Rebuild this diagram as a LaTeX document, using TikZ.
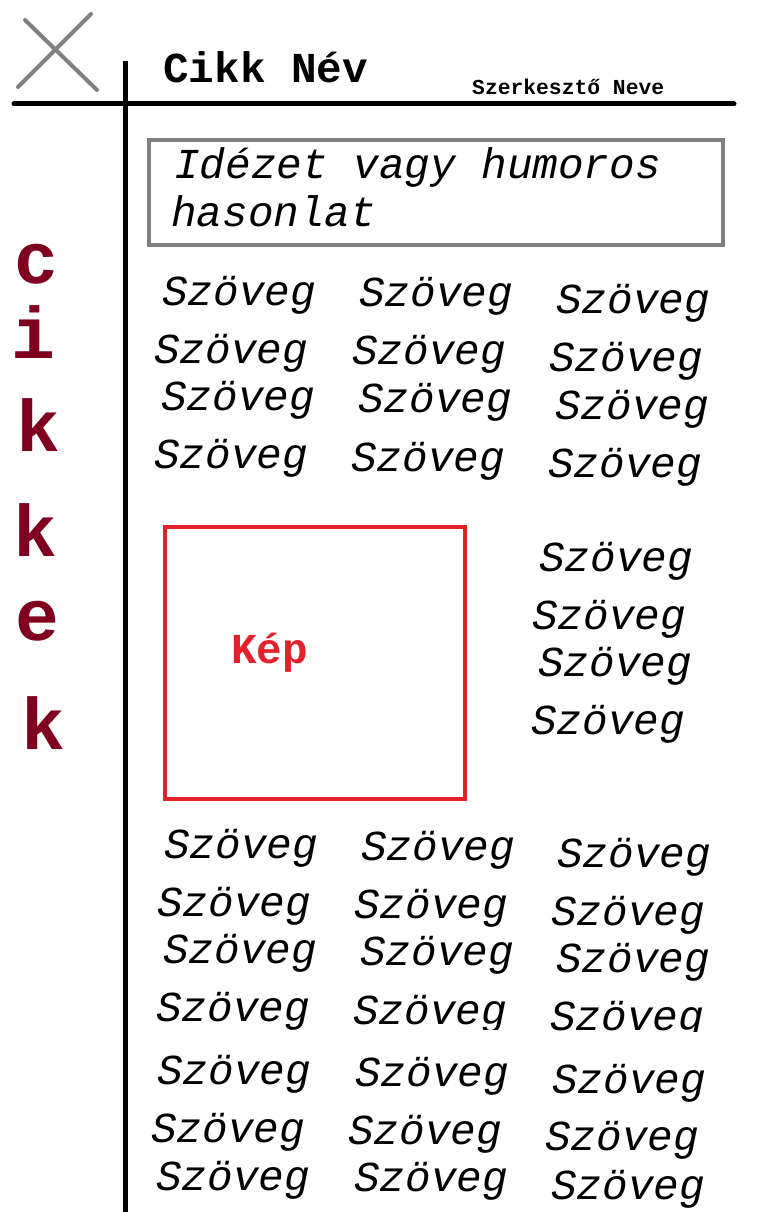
\documentclass[tikz,border=0pt]{standalone}
\usepackage{fontspec}
\newfontfamily\mono{Liberation Mono}
\definecolor{xgray}{RGB}{128,128,128}
\definecolor{kepred}{RGB}{228,32,43}
\definecolor{darkred}{RGB}{128,0,32}
\begin{document}
\begin{tikzpicture}[x=1pt,y=-1pt,
  txt/.style={anchor=base west,inner sep=0pt,yshift=-2pt,font=\mono\itshape\fontsize{42.67}{48}\selectfont},
  vletter/.style={anchor=base,inner sep=0pt,text=darkred,font=\mono\bfseries\fontsize{73}{80}\selectfont},
  rule/.style={line width=5pt,line cap=round},
  xline/.style={draw=xgray,line width=4pt,line cap=round}]
\useasboundingbox[fill=white] (0,0) rectangle (760,1212);
% X mark
\coordinate (x1a) at (25,20); \coordinate (x1b) at (97,90);
\coordinate (x2a) at (18,87); \coordinate (x2b) at (91,14);
\draw[xline] (x1a) -- (x1b);
\draw[xline] (x2a) -- (x2b);
% rules
\coordinate (hl) at (14,104); \coordinate (hr) at (734,104);
\coordinate (vt) at (125,61); \coordinate (vb) at (125,1214);
\draw[rule] (hl) -- (hr);
\draw[line width=5pt] (vt) -- (vb);
% title
\node[anchor=base west,inner sep=0pt,font=\mono\bfseries\fontsize{42.67}{48}\selectfont] (title) at (163,83) {Cikk Név};
\node[anchor=base west,inner sep=0pt,font=\mono\bfseries\fontsize{21.33}{24}\selectfont] (editor) at (472,95) {Szerkesztő Neve};
% quote box
\node[draw=xgray,line width=4pt,minimum width=574pt,minimum height=105pt,inner sep=0pt] (qbox) at (436,192.5) {};
\node[txt] (q1) at (174,176) {Idézet vagy humoros};
\node[txt] (q2) at (171,224) {hasonlat};
% vertical word
\node[vletter] (c1) at (36,283) {c};
\node[vletter] (c2) at (33,358) {i};
\node[vletter] (c3) at (38,451) {k};
\node[vletter] (c4) at (35,556) {k};
\node[vletter] (c5) at (37,640) {e};
\node[vletter] (c6) at (43,749) {k};
% image box
\node[draw=kepred,line width=4pt,minimum width=300pt,minimum height=272pt,inner sep=0pt] (kbox) at (315,663) {};
\node[anchor=base west,inner sep=0pt,text=kepred,font=\mono\bfseries\fontsize{42.67}{48}\selectfont] (kep) at (231,663) {Kép};
% top block
\node[txt] (t11) at (162,303) {Szöveg};
\node[txt] (t12) at (359,304) {Szöveg};
\node[txt] (t13) at (556,311) {Szöveg};
\node[txt] (t21) at (154,361) {Szöveg};
\node[txt] (t22) at (352,362) {Szöveg};
\node[txt] (t23) at (549,369) {Szöveg};
\node[txt] (t31) at (161,408) {Szöveg};
\node[txt] (t32) at (358,410) {Szöveg};
\node[txt] (t33) at (555,417) {Szöveg};
\node[txt] (t41) at (154,466) {Szöveg};
\node[txt] (t42) at (351,469) {Szöveg};
\node[txt] (t43) at (548,475) {Szöveg};
% middle right
\node[txt] (m1) at (539,569) {Szöveg};
\node[txt] (m2) at (532,627) {Szöveg};
\node[txt] (m3) at (538,674) {Szöveg};
\node[txt] (m4) at (531,732) {Szöveg};
% bottom block
\node[txt] (b11) at (164,856) {Szöveg};
\node[txt] (b12) at (361,858) {Szöveg};
\node[txt] (b13) at (557,865) {Szöveg};
\node[txt] (b21) at (157,914) {Szöveg};
\node[txt] (b22) at (354,916) {Szöveg};
\node[txt] (b23) at (551,923) {Szöveg};
\node[txt] (b31) at (163,961) {Szöveg};
\node[txt] (b32) at (360,963) {Szöveg};
\node[txt] (b33) at (556,970) {Szöveg};
\node[txt] (b41) at (156,1019) {Szöveg};
\begin{scope}
\clip (340,980) rectangle (520,1029);
\node[txt] (b42) at (353,1022) {Szöveg};
\end{scope}
\begin{scope}
\clip (540,985) rectangle (720,1031);
\node[txt] (b43) at (550,1028) {Szöveg};
\end{scope}
\node[txt] (b51) at (157,1082) {Szöveg};
\node[txt] (b52) at (355,1084) {Szöveg};
\node[txt] (b53) at (552,1091) {Szöveg};
\node[txt] (b61) at (151,1140) {Szöveg};
\node[txt] (b62) at (348,1142) {Szöveg};
\node[txt] (b63) at (545,1148) {Szöveg};
\node[txt] (b71) at (156,1188) {Szöveg};
\node[txt] (b72) at (354,1189) {Szöveg};
\node[txt] (b73) at (551,1197) {Szöveg};
\end{tikzpicture}
\end{document}
